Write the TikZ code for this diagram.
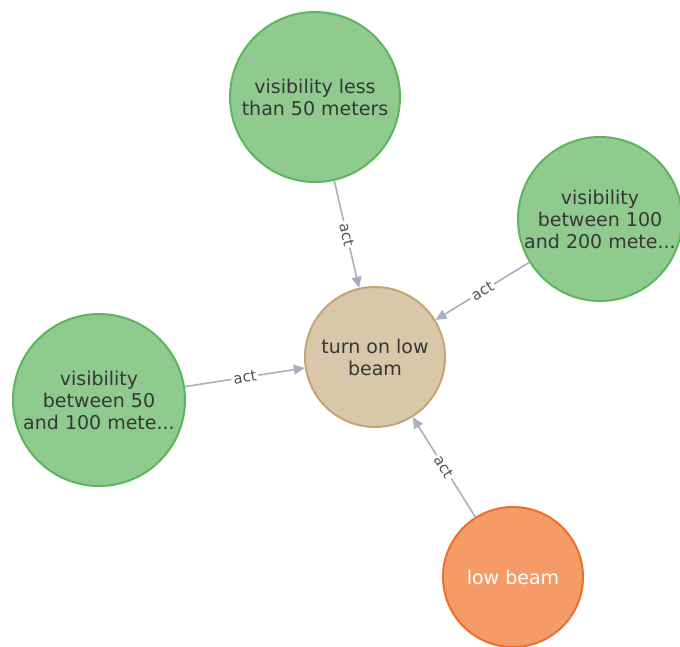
\documentclass[tikz,border=0pt]{standalone}
\usepackage{fontspec}
\setmainfont{DejaVu Sans}
\usetikzlibrary{arrows.meta}

\definecolor{condfill}{HTML}{8FCB8F}
\definecolor{conddraw}{HTML}{5DB55D}
\definecolor{actfill}{HTML}{D9C7A9}
\definecolor{actdraw}{HTML}{C2A676}
\definecolor{objfill}{HTML}{F59B68}
\definecolor{objdraw}{HTML}{EF6F2A}
\definecolor{linkgray}{HTML}{A8AFBF}
\definecolor{textgray}{HTML}{363636}

\tikzset{
  cond/.style={circle, draw=conddraw, fill=condfill, line width=2pt,
    minimum size=170pt, inner sep=0pt, align=center, text=textgray,
    font=\fontsize{19}{22}\selectfont},
  action/.style={cond, draw=actdraw, fill=actfill, minimum size=140pt},
  object/.style={cond, draw=objdraw, fill=objfill, minimum size=140pt, text=white},
  link/.style={draw=linkgray, line width=1.6pt,
    -{Triangle[length=11pt,width=10pt]}},
  linklabel/.style={sloped, fill=white, inner sep=2pt, text=textgray!85,
    font=\fontsize{15}{15}\selectfont}
}

\begin{document}
\begin{tikzpicture}[x=1pt, y=-1pt]
  \useasboundingbox (0,0) rectangle (680,646);

  % ---- 中央: 動作ノード ----
  \node[action] (lowon) at (375, 357) {turn on low\\beam};

  % ---- 条件ノード（視程） ----
  \node[cond] (vis50)  at (315, 97)  {visibility less\\than 50 meters};
  \node[cond, minimum size=164pt] (vis100) at (600, 219) {visibility\\between 100\\and 200 mete...};
  \node[cond, minimum size=172pt] (vis5010) at (99, 400) {visibility\\between 50\\and 100 mete...};

  % ---- 対象ノード ----
  \node[object] (beam) at (513, 577) {low beam};

  % ---- 矢印 act ----
  \draw[link] (vis50)   -- node[linklabel] {act} (lowon);
  \draw[link] (vis100)  -- node[linklabel] {act} (lowon);
  \draw[link] (vis5010) -- node[linklabel] {act} (lowon);
  \draw[link] (beam)    -- node[linklabel] {act} (lowon);
\end{tikzpicture}
\end{document}
